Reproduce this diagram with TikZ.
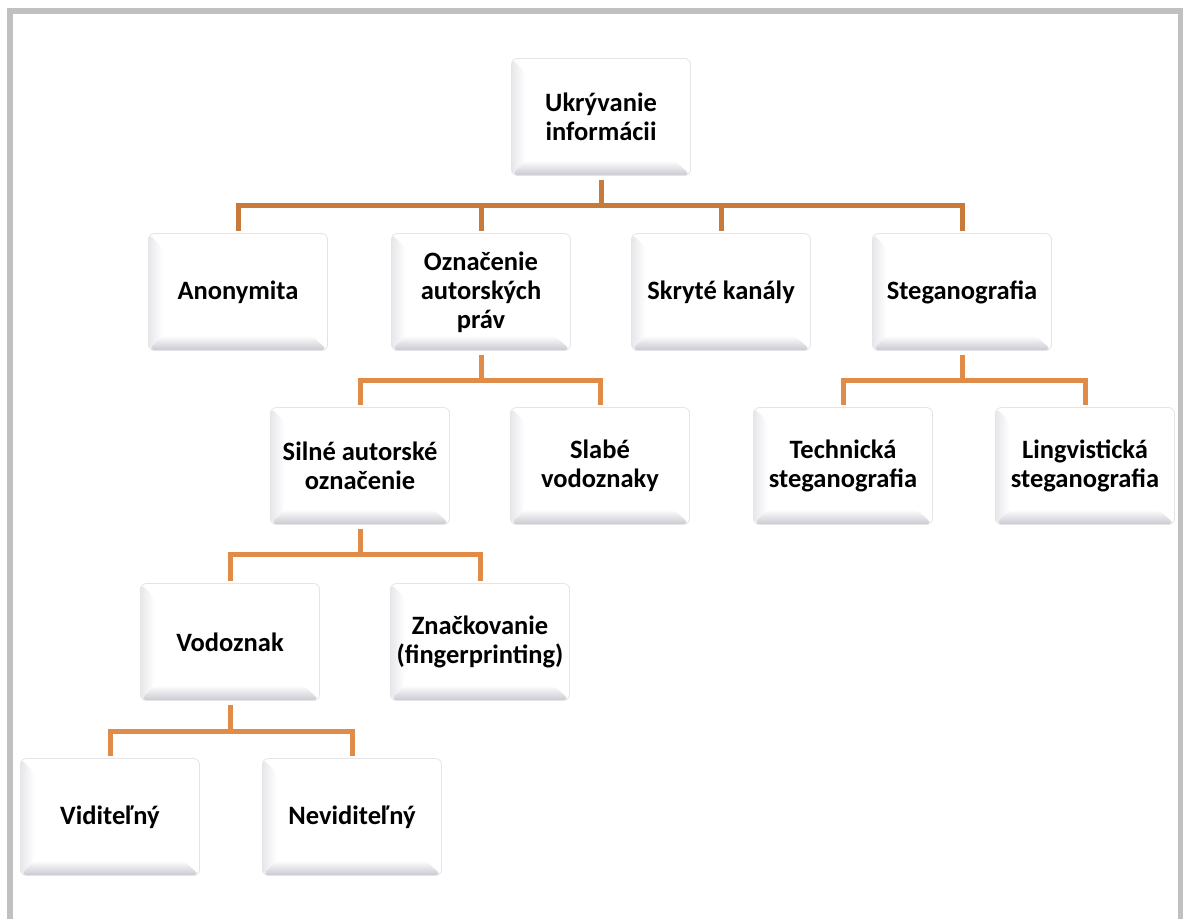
\documentclass[tikz,border=0pt]{standalone}
\usepackage{fontspec}
\setmainfont{Carlito}
\definecolor{framegray}{HTML}{C0C0C0}
\definecolor{bev}{HTML}{CACAD2}
\definecolor{edgegray}{HTML}{E4E4E8}
\definecolor{conndark}{HTML}{C87A3A}
\definecolor{connlight}{HTML}{E08C48}
\tikzset{
  box/.style={draw=edgegray, line width=0.8pt, fill=white, rounded corners=6pt,
    minimum width=179pt, minimum height=117pt, inner sep=0pt,
    align=center, text=black,
    font=\fontsize{26.5}{29}\selectfont\bfseries,
    path picture={
      \coordinate (bsw) at (path picture bounding box.south west);
      \coordinate (bse) at (path picture bounding box.south east);
      \coordinate (bnw) at (path picture bounding box.north west);
      \coordinate (bne) at (path picture bounding box.north east);
      \shade[left color=bev!45, middle color=bev!90, right color=white]
        (bsw) -- (bnw) -- ([xshift=14pt,yshift=-14pt]bnw) -- ([xshift=14pt,yshift=14pt]bsw) -- cycle;
      \shade[top color=white, bottom color=bev]
        ([yshift=0.5pt]bsw) -- ([yshift=0.5pt]bse) -- ([xshift=-16pt,yshift=15pt]bse) -- ([xshift=14pt,yshift=15pt]bsw) -- cycle;
      \fill[white]
        ([xshift=14pt,yshift=15pt]bsw) rectangle ([xshift=-2pt,yshift=-3pt]bne);
    }},
  conn/.style={line width=5pt, conndark, shorten >=2pt, shorten <=4pt},
  connl/.style={line width=5pt, connlight, shorten >=2pt, shorten <=4pt}
}
\begin{document}
\begin{tikzpicture}[x=1pt,y=-1pt]
\useasboundingbox (0,0) rectangle (1183,919);
\fill[white] (0,0) rectangle (1183,919);
% frame
\fill[framegray] (7,8) rectangle (13,919);
\fill[framegray] (7,8) rectangle (1183,14);
\fill[framegray] (1178,8) rectangle (1183,919);

\node[box] (root) at (601,117) {Ukrývanie\\informácii};
\node[box] (anon) at (238,292) {Anonymita};
\node[box] (ozn) at (481,292) {Označenie\\autorských\\práv};
\node[box] (skr) at (721,292) {Skryté kanály};
\node[box] (steg) at (962,292) {Steganografia};
\node[box] (sil) at (360,466) {Silné autorské\\označenie};
\node[box] (sla) at (600,466) {Slabé\\vodoznaky};
\node[box] (tech) at (843,466) {Technická\\steganografia};
\node[box] (ling) at (1085,466) {Lingvistická\\steganografia};
\node[box] (vod) at (230,642) {Vodoznak};
\node[box] (zna) at (480,642) {Značkovanie\\(fingerprinting)};
\node[box] (vid) at (110,817) {Viditeľný};
\node[box] (nev) at (352,817) {Neviditeľný};

\foreach \c in {anon,ozn,skr,steg}
  \draw[conn] (root.south) -- ++(0,30) -| (\c.north);
\foreach \c in {sil,sla}
  \draw[connl] (ozn.south) -- ++(0,30) -| (\c.north);
\foreach \c in {tech,ling}
  \draw[connl] (steg.south) -- ++(0,30) -| (\c.north);
\foreach \c in {vod,zna}
  \draw[connl] (sil.south) -- ++(0,30) -| (\c.north);
\foreach \c in {vid,nev}
  \draw[connl] (vod.south) -- ++(0,31) -| (\c.north);
\end{tikzpicture}
\end{document}
